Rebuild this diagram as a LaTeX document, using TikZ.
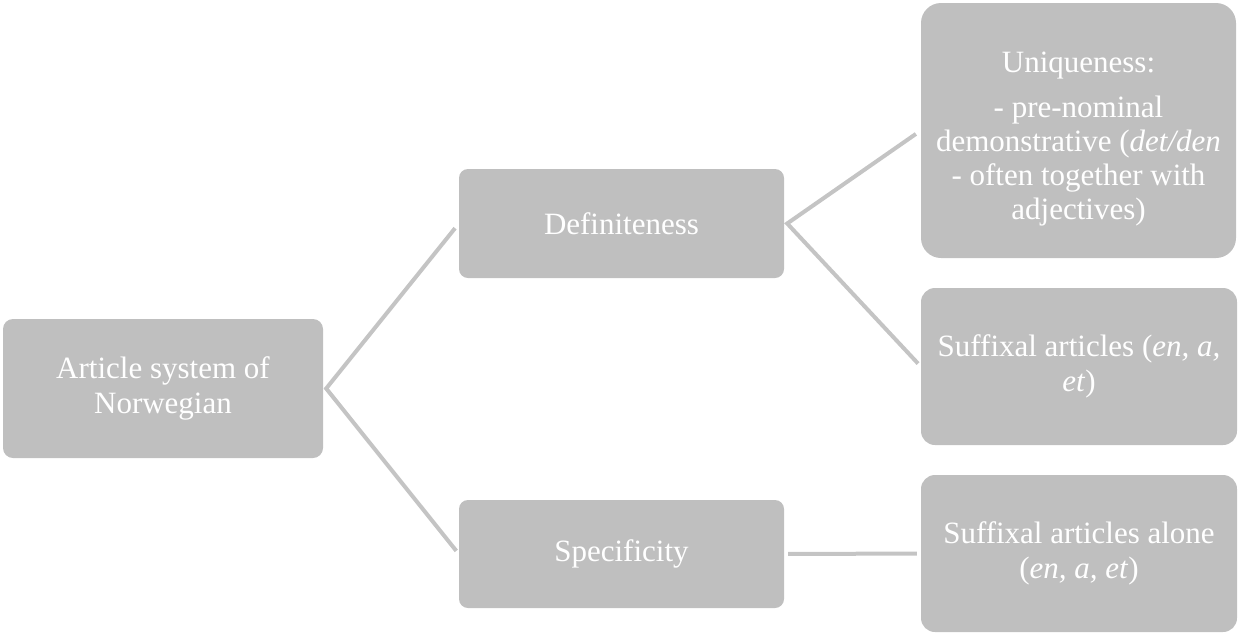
\documentclass[tikz,border=0pt]{standalone}
\usepackage{fontspec}
\setmainfont{Liberation Serif}
\definecolor{boxgray}{HTML}{BFBFBF}
\definecolor{linegray}{HTML}{C4C4C4}
\tikzset{
  box/.style={rectangle, fill=boxgray, draw=none, text=white, align=center,
    inner sep=0pt, font=\fontsize{31}{35}\selectfont},
  conn/.style={draw=linegray, line width=4pt, line join=miter}
}
\begin{document}
\begin{tikzpicture}[x=1pt,y=-1pt]
\useasboundingbox (0,0) rectangle (1239,633);
\node[box, rounded corners=10pt, minimum width=320pt, minimum height=139pt] (root) at (163,388.5)
  {Article system of\\Norwegian};
\node[box, rounded corners=9pt, minimum width=325pt, minimum height=109pt] (def) at (621.5,223.5)
  {Definiteness};
\node[box, rounded corners=9pt, minimum width=325pt, minimum height=108pt] (spec) at (621.5,554)
  {Specificity};
\node[box, rounded corners=20pt, minimum width=315pt, minimum height=255pt,
      font=\fontsize{31}{34}\selectfont] (uniq) at (1078.5,130.5)
  {\rule{0pt}{37pt}Uniqueness:\\[11pt]- pre-nominal\\demonstrative (\textit{det/den}\\- often together with\\adjectives)};
\node[box, rounded corners=14pt, minimum width=316pt, minimum height=157pt] (suf) at (1079,366.5)
  {Suffixal articles (\textit{en, a,}\\\textit{et})};
\node[box, rounded corners=14pt, minimum width=316pt, minimum height=157pt] (sufa) at (1079,553.5)
  {Suffixal articles alone\\(\textit{en, a, et})};
\draw[conn, shorten <=6pt, shorten >=4pt] (def.west) -- ([xshift=3pt]root.east) -- (spec.west);
\draw[conn, shorten <=6pt, shorten >=4pt] (uniq.west) -- ([xshift=3pt]def.east) -- (suf.west);
\draw[conn, shorten <=4pt, shorten >=4pt] (spec.east) -- (sufa.west);
\end{tikzpicture}
\end{document}
